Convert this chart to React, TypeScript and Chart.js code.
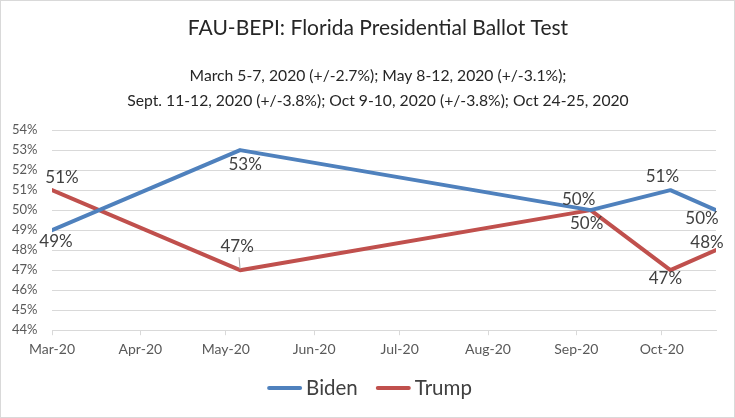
import React, { useEffect, useRef } from "react";
import { Chart, registerables } from "chart.js";

Chart.register(...registerables);

// ---- Data ----
const titleText = "FAU-BEPI: Florida Presidential Ballot Test";
const subtitleLines = [
  "March 5-7, 2020 (+/-2.7%); May 8-12, 2020 (+/-3.1%);",
  "Sept. 11-12, 2020 (+/-3.8%); Oct 9-10, 2020 (+/-3.8%); Oct 24-25, 2020",
];
const pollDates = ["2020-03-05", "2020-05-10", "2020-09-10", "2020-10-08", "2020-10-24"];
const seriesNames = ["Biden", "Trump"];
const bidenValues = [49, 53, 50, 51, 50];
const trumpValues = [51, 47, 50, 47, 48];
const tickDates = [
  "2020-03-05", "2020-04-05", "2020-05-05", "2020-06-05",
  "2020-07-05", "2020-08-05", "2020-09-05", "2020-10-05",
];
const tickLabels = ["Mar-20", "Apr-20", "May-20", "Jun-20", "Jul-20", "Aug-20", "Sep-20", "Oct-20"];
const yMin = 44;
const yMax = 54;

// ---- Styles ----
const FONT = "Lato, 'Open Sans', sans-serif";
const colors = ["#4F81BD", "#C0504D"];
// label offsets (dx, dy) relative to each point
const labelOffsets = [
  [[4, 11], [5, 14], [-12, -11], [-8, -14], [-14, 8]],
  [[10, -13], [-3, -24], [-4, 13], [-5, 8], [-9, -8]],
];
const leaderLines = [
  [false, false, false, false, false],
  [false, true, false, false, false],
];

const dayOf = (s: string) =>
  (Date.parse(s + "T00:00:00Z") - Date.parse(pollDates[0] + "T00:00:00Z")) / 86400000;

const bgPlugin = {
  id: "bgBorder",
  beforeDraw(chart: any) {
    const { ctx, width, height } = chart;
    ctx.save();
    ctx.fillStyle = "#ffffff";
    ctx.fillRect(0, 0, width, height);
    ctx.restore();
  },
  afterDraw(chart: any) {
    const { ctx, width, height } = chart;
    ctx.save();
    ctx.strokeStyle = "#d9d9d9";
    ctx.lineWidth = 1;
    ctx.strokeRect(0.5, 0.5, width - 1, height - 1);
    ctx.restore();
  },
};

const labelPlugin = {
  id: "pointLabels",
  afterDatasetsDraw(chart: any) {
    const { ctx } = chart;
    ctx.save();
    ctx.font = `17px ${FONT}`;
    ctx.fillStyle = "#404040";
    ctx.textAlign = "center";
    ctx.textBaseline = "middle";
    chart.data.datasets.forEach((ds: any, i: number) => {
      const meta = chart.getDatasetMeta(i);
      meta.data.forEach((pt: any, j: number) => {
        const [dx, dy] = labelOffsets[i][j];
        const v = ds.data[j].y;
        if (leaderLines[i][j]) {
          ctx.save();
          ctx.strokeStyle = "#a6a6a6";
          ctx.lineWidth = 1;
          ctx.beginPath();
          ctx.moveTo(pt.x - 1, pt.y + dy + 11);
          ctx.lineTo(pt.x, pt.y - 1);
          ctx.stroke();
          ctx.restore();
        }
        ctx.fillText(`${v}%`, pt.x + dx, pt.y + dy);
      });
    });
    ctx.restore();
  },
};

const legendPlugin = {
  id: "customLegend",
  afterDraw(chart: any) {
    const { ctx, width } = chart;
    ctx.save();
    ctx.font = `20.5px ${FONT}`;
    ctx.textBaseline = "middle";
    ctx.textAlign = "left";
    const lineW = 35;
    const gap = 4;
    const between = 18;
    const items = chart.data.datasets.map((ds: any) => ({
      text: ds.label,
      color: ds.borderColor,
      w: lineW + gap + ctx.measureText(ds.label).width,
    }));
    const total = items.reduce((a: number, b: any) => a + b.w, 0) + between * (items.length - 1);
    let x = width / 2 + 2 - total / 2;
    const y = 388;
    items.forEach((it: any) => {
      ctx.strokeStyle = it.color;
      ctx.lineWidth = 4;
      ctx.lineCap = "round";
      ctx.beginPath();
      ctx.moveTo(x + 2, y);
      ctx.lineTo(x + lineW - 2, y);
      ctx.stroke();
      ctx.fillStyle = "#404040";
      ctx.fillText(it.text, x + lineW + gap, y);
      x += it.w + between;
    });
    ctx.restore();
  },
};

export default function App() {
  const canvasRef = useRef<HTMLCanvasElement | null>(null);

  useEffect(() => {
    document.body.style.margin = "0";
    const canvas = canvasRef.current;
    if (!canvas) return;
    const allValues = [bidenValues, trumpValues];
    const chart = new Chart(canvas, {
      type: "line",
      data: {
        datasets: seriesNames.map((name, i) => ({
          label: name,
          data: pollDates.map((d, j) => ({ x: dayOf(d), y: allValues[i][j] })),
          borderColor: colors[i],
          backgroundColor: colors[i],
          borderWidth: 4,
          pointRadius: 0,
          pointHoverRadius: 0,
          tension: 0,
          borderJoinStyle: "round" as const,
          borderCapStyle: "round" as const,
        })),
      },
      options: {
        responsive: false,
        animation: false,
        layout: { padding: { left: 40, right: 19, top: 0, bottom: 54 } },
        plugins: {
          legend: { display: false },
          tooltip: { enabled: false },
          title: {
            display: true,
            text: titleText,
            color: "#262626",
            font: { family: FONT, size: 21, weight: "normal" },
            padding: { top: 15.4, bottom: 0 },
          },
          subtitle: {
            display: true,
            text: subtitleLines,
            color: "#262626",
            font: { family: FONT, size: 15.7, weight: "normal", lineHeight: "25px" },
            padding: { top: 22.7, bottom: 16.8 },
          },
        },
        scales: {
          x: {
            type: "linear",
            min: 0,
            max: dayOf(pollDates[pollDates.length - 1]),
            afterBuildTicks: (scale: any) => {
              scale.ticks = tickDates.map((d) => ({ value: dayOf(d) }));
            },
            ticks: {
              autoSkip: false,
              maxRotation: 0,
              padding: 6,
              color: "#595959",
              font: { family: FONT, size: 14 },
              callback: (_v: any, i: number) => tickLabels[i],
            },
            grid: {
              drawOnChartArea: false,
              drawTicks: true,
              tickLength: 5,
              color: "#d9d9d9",
            },
            border: { display: true, color: "#d9d9d9" },
          },
          y: {
            min: yMin,
            max: yMax,
            afterFit: (scale: any) => {
              scale.width = 12;
            },
            ticks: {
              stepSize: 1,
              mirror: true,
              padding: -40,
              color: "#595959",
              font: { family: FONT, size: 13 },
              callback: (v: any) => `${v}%`,
            },
            grid: { color: "#d9d9d9", drawTicks: false },
            border: { display: false },
          },
        },
      },
      plugins: [bgPlugin, labelPlugin, legendPlugin],
    } as any);
    return () => chart.destroy();
  }, []);

  return (
    <div style={{ width: 735, height: 418 }}>
      <canvas ref={canvasRef} width={735} height={418} style={{ display: "block" }} />
    </div>
  );
}
